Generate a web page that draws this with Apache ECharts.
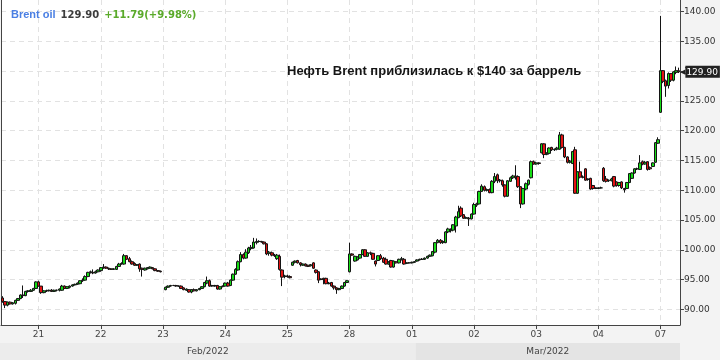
<!DOCTYPE html>
<html><head><meta charset="utf-8">
<script src="https://cdn.jsdelivr.net/npm/echarts@6/dist/echarts.min.js"></script>
<style>html,body{margin:0;padding:0;background:#f3f3f3}#c{width:720px;height:360px}</style>
</head><body><div id="c"></div>
<script>
// Day labels (first = partial Friday Feb 18, not labelled on axis)
const dayLabels = ['18','21','22','23','24','25','28','01','02','03','04','07'];
const monthLabels = ['Feb/2022','Mar/2022'];
const yTicks = [90,95,100,105,110,115,120,125,130,135,140];
const instrument = 'Brent oil';
const lastPrice = 129.90;
const changeText = '+11.79(+9.98%)';
const headline = 'Нефть Brent приблизилась к $140 за баррель';

// hourly candles: [open, close, low, high]
const feb18 = [
[91.9,91.3,91.1,92.2],[91.3,90.7,90.2,91.4],[90.7,91.2,90.5,91.3],[91.2,90.9,90.8,91.3],
[90.9,91.1,90.8,91.2],[91.0,91.5,90.8,91.6],[91.5,91.8,91.4,91.9],[91.8,92.4,91.7,92.5],
[92.4,92.3,91.9,94.0],[92.3,93.0,92.2,93.1],[93.0,93.1,92.8,93.2],[93.0,93.2,92.9,93.4],
[93.2,93.5,93.1,93.6],[93.5,94.6,93.4,94.7]];
const feb21 = [
[94.6,93.9,93.8,94.8],[93.9,92.8,92.6,93.9],[92.8,93.1,92.7,93.2],[93.1,93.1,92.9,93.3],
[93.1,93.2,93.0,93.3],[93.2,93.0,92.9,93.4],[93.0,93.2,92.9,93.3],[93.2,93.2,93.0,93.3],
[93.2,93.4,93.0,93.5],[93.2,93.9,93.1,94.1],[93.9,93.5,93.4,94.0],[93.5,93.8,93.4,93.9],
[93.7,93.9,93.5,94.0],[93.9,94.1,93.8,94.2],[94.1,94.2,94.0,94.3],[94.2,94.4,94.1,94.5],
[94.3,94.8,94.2,94.9],[94.8,94.9,94.6,95.2],[94.9,95.5,94.8,95.7],[95.5,96.2,95.4,96.3],
[96.2,96.3,96.0,96.5],[96.2,96.1,95.9,96.7],[96.1,96.3,96.0,96.5],[96.3,96.6,96.2,96.7]];
const feb22 = [
[96.5,97.0,96.3,97.1],[97.0,97.1,96.8,97.6],[97.1,96.9,96.8,97.2],[96.9,96.8,96.6,97.0],
[96.8,96.7,96.6,96.9],[96.7,96.8,96.6,96.9],[96.7,97.2,96.6,97.3],[97.2,97.6,97.1,97.8],
[97.6,97.7,97.5,97.9],[97.6,99.0,97.5,99.3],[99.0,98.4,98.3,99.1],[98.5,98.0,97.9,98.8],
[98.0,97.6,97.5,98.2],[97.7,97.4,97.3,97.9],[97.4,97.5,97.3,97.6],[97.6,96.8,96.3,97.7],
[96.9,96.7,95.5,97.0],[96.6,96.9,96.5,97.0],[96.8,97.0,96.7,97.1],[96.9,97.1,96.8,97.2],
[97.0,96.8,96.7,97.1],[96.8,96.5,96.4,96.9],[96.5,96.4,96.3,96.6],[96.4,96.3,96.2,96.5]];
const feb23 = [
null,[93.3,93.7,93.2,93.8],[93.7,93.9,93.6,94.0],[93.9,94.0,93.8,94.1],
[94.0,94.0,93.9,94.1],[94.0,93.9,93.8,94.1],[93.9,93.9,93.8,94.0],[93.9,93.5,93.4,94.0],
[93.6,93.3,93.2,93.7],[93.2,93.4,93.1,93.5],[93.3,92.9,92.8,93.4],[92.9,93.3,92.7,93.4],
[93.3,93.1,93.0,93.5],[93.1,93.3,93.0,93.4],[93.3,93.5,93.2,93.6],[93.5,93.8,93.4,93.9],
[93.8,94.5,93.7,94.6],[94.4,94.8,94.2,95.5],[94.8,93.9,93.8,95.0],[93.9,94.0,93.8,94.1],
[94.0,93.9,93.8,94.1],[94.0,93.4,93.3,94.1],[93.4,93.8,93.3,93.9],[93.8,93.9,93.7,94.0]];
const feb24 = [
[93.9,94.4,93.8,94.5],[94.4,93.9,93.8,94.6],[94.0,94.9,93.9,95.0],[94.9,95.9,94.8,96.0],
[95.9,96.7,95.8,96.9],[96.6,98.0,96.5,98.2],[98.0,99.2,97.9,99.6],[99.2,98.6,98.4,99.4],
[98.6,99.6,98.5,100.1],[99.5,100.3,99.3,100.5],[100.2,100.4,99.9,100.8],[100.3,101.3,100.2,102.0],
[101.2,101.4,100.9,101.9],[101.4,101.4,101.2,101.6],[101.4,101.3,101.2,101.5],[101.3,101.0,100.9,101.4],
[101.0,99.3,99.1,101.1],[99.4,99.6,99.0,99.8],[99.5,99.1,98.9,99.7],[99.1,99.0,98.8,99.3],
[98.5,99.1,98.3,99.3],[98.9,96.7,96.5,99.2],[96.6,95.4,93.9,96.7],[95.5,95.6,95.2,95.8]];
const feb25 = [
[95.6,95.5,95.3,95.8],[95.5,95.3,95.2,95.7],[97.4,97.9,97.3,98.0],[97.9,98.1,97.7,98.2],
[98.2,97.8,97.7,98.3],[97.8,97.5,97.2,97.9],[97.4,97.6,97.3,97.7],[97.6,97.3,97.2,97.7],
[97.4,97.2,97.1,97.5],[97.3,97.5,97.2,97.6],[97.8,96.9,96.8,97.9],[96.6,96.2,96.0,96.7],
[96.3,94.9,94.4,96.4],[95.0,95.1,94.9,95.2],[95.2,95.0,94.2,95.3],[95.2,94.3,94.2,95.3],
[94.3,94.4,94.2,94.6],[94.5,93.9,93.8,94.6],[93.9,93.6,93.3,94.0],[93.6,93.3,92.6,93.7],
[93.3,93.5,93.2,93.6],[93.5,93.9,93.4,94.0],[93.9,94.5,93.8,94.6],[94.5,94.8,94.4,94.9]];
const feb28 = [
[96.3,99.3,96.2,101.2],[99.3,99.1,99.0,99.4],[98.1,98.9,98.0,99.0],[98.3,98.8,98.2,98.9],
[98.6,99.2,98.5,99.3],[99.2,100.0,99.1,100.1],[100.0,98.9,98.8,100.1],[98.9,99.5,98.8,99.6],
[99.5,99.4,99.1,99.7],[99.4,98.4,98.3,99.5],[98.1,97.6,97.2,98.2],[98.2,99.0,98.1,99.1],
[99.0,98.5,98.3,99.3],[98.6,97.9,97.8,98.8],[98.4,97.6,97.5,98.7],[97.6,97.9,97.5,98.1],
[98.2,97.1,97.0,98.3],[97.1,98.1,97.0,98.2],[98.0,97.8,97.7,98.1],[97.8,98.4,97.7,98.5],
[98.4,98.5,98.2,98.8],[98.4,97.6,97.5,98.6],[97.7,97.8,97.6,97.9],[97.8,97.8,97.7,97.9]];
const mar01 = [
[97.8,97.9,97.7,98.0],[97.9,98.0,97.8,98.1],[98.1,98.3,98.0,98.4],[98.3,98.4,98.2,98.5],
[98.4,98.4,98.3,98.6],[98.4,98.6,98.3,98.7],[98.6,98.9,98.5,99.0],[98.9,99.1,98.8,99.2],
[99.0,99.7,98.9,99.8],[99.6,101.2,99.4,101.3],[101.2,101.6,101.1,101.8],[101.6,101.2,101.0,101.8],
[101.2,101.4,101.0,101.6],[101.2,103.0,101.1,103.1],[103.0,103.5,102.8,103.7],[103.2,103.3,102.9,103.6],
[103.3,104.2,103.1,104.3],[104.0,105.5,102.9,105.7],[105.4,106.4,105.3,107.4],[107.0,105.7,105.5,107.3],
[105.9,105.3,105.2,106.0],[105.3,105.4,105.2,105.6],[105.3,105.2,104.0,105.5],[105.2,106.0,105.1,106.1]];
const mar02 = [
[106.0,107.6,105.9,107.9],[107.5,107.7,107.2,107.9],[107.7,109.8,107.6,109.9],[109.8,110.7,109.7,111.0],
[110.6,110.0,109.8,110.8],[110.0,110.1,109.8,110.3],[110.1,109.6,109.5,110.3],[109.6,111.5,109.5,111.7],
[111.5,112.3,111.2,112.9],[112.6,111.6,111.2,112.8],[111.6,111.7,111.3,111.9],[111.6,110.9,110.6,111.8],
[110.9,109.0,108.8,111.0],[109.0,111.6,108.9,111.7],[111.5,112.1,111.4,112.3],[112.1,112.4,111.9,112.6],
[112.4,112.2,111.8,114.2],[112.3,110.6,110.4,112.5],[110.6,107.7,107.0,110.7],[107.7,110.3,107.6,110.4],
[110.2,111.1,110.0,111.3],[111.0,111.7,110.8,111.8],[112.1,114.8,112.0,115.0],[114.8,114.4,114.3,115.0]];
const mar03 = [
[114.4,114.6,114.3,114.8],[114.6,114.5,114.3,114.7],[116.3,117.8,116.2,117.9],[117.8,116.0,115.4,117.9],
[116.0,116.2,115.9,116.4],[116.2,117.1,116.0,117.2],[117.2,116.8,116.6,117.3],[116.8,116.9,116.6,117.0],
[116.9,117.1,116.7,117.3],[116.9,119.3,116.8,119.8],[119.3,117.2,117.0,119.5],[117.2,115.6,115.4,117.3],
[115.6,114.7,114.5,115.7],[114.7,114.9,114.5,115.1],[114.5,116.5,114.4,116.6],[116.8,109.5,109.4,117.3],
[109.5,113.1,109.4,113.2],[113.1,112.2,112.0,114.8],[112.2,112.2,112.0,112.5],[113.6,111.7,111.6,113.7],
[111.8,111.9,111.6,112.0],[112.0,110.2,110.1,112.1],[110.8,110.3,110.1,110.9],[110.4,110.3,110.2,110.5]];
const mar04 = [
[110.3,110.4,110.2,110.5],[110.4,110.4,110.3,110.6],[113.7,111.6,111.4,113.9],[111.9,111.5,111.3,112.4],
[111.6,111.7,111.4,111.8],[111.6,111.9,111.5,112.1],[112.3,110.7,110.5,112.4],[111.4,110.8,110.6,111.5],
[110.8,111.3,110.6,111.4],[111.4,110.4,110.2,111.5],[110.3,110.1,109.6,110.4],[110.3,111.3,110.2,111.4],
[111.3,112.8,111.2,112.9],[112.0,112.9,111.9,113.0],[112.9,113.6,112.8,113.7],[113.6,113.6,113.4,113.8],
[113.5,114.6,113.4,115.9],[114.8,114.4,114.2,115.0],[114.4,114.7,114.3,114.9],[114.8,113.5,113.3,114.9],
[113.8,113.6,113.4,114.0],[114.0,114.6,113.9,114.7],[114.7,118.0,114.6,118.1],[117.9,118.5,117.8,118.9]];
const mar07 = [
[123.1,130.1,123.0,139.3],[130.1,128.3,128.0,130.2],[128.4,127.5,125.7,128.6],[127.6,129.6,127.1,129.8],
[129.6,128.5,128.2,129.7],[128.5,129.9,128.3,130.0],[129.8,130.1,129.5,130.8],[130.1,129.9,129.7,130.6]];

const days = [feb18,feb21,feb22,feb23,feb24,feb25,feb28,mar01,mar02,mar03,mar04,mar07];
const categories = [], ohlc = [], tickIdx = new Set();
let marStart = 0;
days.forEach((arr, d) => {
  arr.forEach((c, j) => {
    const idx = categories.length;
    categories.push(dayLabels[d] + '_' + j);
    if (d > 0 && j === 0) tickIdx.add(idx);
    if (dayLabels[d] === '01' && j === 0) marStart = idx;
    ohlc.push(c ? c : ['-','-','-','-']);
  });
});
const isTick = (i) => tickIdx.has(i);
const FONT = 'DejaVu Sans';

const chart = echarts.init(document.getElementById('c'), null, {renderer: 'canvas'});
chart.setOption({
  animation: false,
  backgroundColor: '#f3f3f3',
  title: [
    {
      left: 11, top: 6, padding: 0,
      text: '{a|' + instrument + '} {b|' + lastPrice.toFixed(2) + '} {c|' + changeText + '}',
      textStyle: {
        rich: {
          a: {color: '#4a7fe3', fontSize: 11, fontWeight: 'bold', fontFamily: 'Liberation Sans'},
          b: {color: '#3c3c3c', fontSize: 10, fontWeight: 'bold', fontFamily: FONT},
          c: {color: '#5aaa2a', fontSize: 10, fontWeight: 'bold', fontFamily: FONT}
        }
      }
    },
    {
      left: 287, top: 65, padding: 0,
      text: headline,
      textStyle: {color: '#151515', fontSize: 13, fontWeight: 'bold', fontFamily: 'Liberation Sans'}
    }
  ],
  grid: {left: 1, right: 40, top: 0, bottom: 35, show: true, backgroundColor: '#ffffff', borderWidth: 0},
  xAxis: {
    type: 'category',
    data: categories,
    boundaryGap: true,
    axisLine: {lineStyle: {color: '#444', width: 1}},
    axisTick: {show: true, interval: isTick, alignWithLabel: true, length: 4, lineStyle: {color: '#444'}},
    axisLabel: {interval: isTick, formatter: (v) => v.split('_')[0], color: '#444', fontSize: 9, fontFamily: FONT, margin: 5},
    splitLine: {show: true, interval: isTick, alignWithLabel: true, lineStyle: {color: '#e2e2e2', type: [5, 4]}}
  },
  yAxis: [
    {
      type: 'value', position: 'right', min: 87.36, max: 141.97, splitNumber: 10, scale: true,
      axisLine: {show: true, lineStyle: {color: '#444'}},
      axisTick: {show: true, length: 4, customValues: yTicks, lineStyle: {color: '#444'}},
      axisLabel: {customValues: yTicks,
        formatter: (v) => v.toFixed(2), color: '#333', fontSize: 9, fontFamily: FONT, margin: 4},
      splitLine: {show: true, customValues: yTicks,
        lineStyle: {color: '#e2e2e2', type: [5, 4]}}
    },
    {
      type: 'value', position: 'left', min: 87.36, max: 141.97,
      axisLine: {show: true, lineStyle: {color: '#444'}},
      axisTick: {show: false}, axisLabel: {show: false}, splitLine: {show: false}
    }
  ],
  series: [{
    type: 'candlestick',
    data: ohlc,
    barWidth: 3,
    itemStyle: {color: '#16dd16', color0: '#e51212', borderColor: '#141414', borderColor0: '#141414', borderWidth: 1},
    markLine: {
      silent: true, symbol: ['none', 'none'],
      lineStyle: {color: 'rgba(0,0,0,0)', width: 0},
      label: {
        show: true, position: 'end', distance: 0,
        formatter: () => '{arr|◀}{box|' + lastPrice.toFixed(2) + '}',
        rich: {
          arr: {color: '#222', fontSize: 7, fontFamily: FONT},
          box: {color: '#ffffff', backgroundColor: '#222', fontSize: 9, fontFamily: FONT, padding: [2, 2, 1, 1]}
        }
      },
      data: [{yAxis: lastPrice}]
    }
  }]
});

// month bands below the date labels, positioned from the category scale
const c0 = chart.convertToPixel({xAxisIndex: 0}, 0);
const c1 = chart.convertToPixel({xAxisIndex: 0}, 1);
const w = c1 - c0;
const bandSplit = chart.convertToPixel({xAxisIndex: 0}, marStart + 1) + w / 2;
const bandEnd = chart.convertToPixel({xAxisIndex: 0}, categories.length - 1) + w / 2;
chart.setOption({
  graphic: [
    {type: 'rect', shape: {x: 0, y: 343, width: bandSplit, height: 17}, style: {fill: '#ececec'}, z: 0},
    {type: 'rect', shape: {x: bandSplit, y: 343, width: bandEnd - bandSplit, height: 17}, style: {fill: '#e4e4e4'}, z: 0},
    {type: 'text', x: bandSplit / 2, y: 352, style: {text: monthLabels[0], fill: '#444', font: '9px "DejaVu Sans"', align: 'center', verticalAlign: 'middle'}, z: 1},
    {type: 'text', x: (bandSplit + bandEnd) / 2, y: 352, style: {text: monthLabels[1], fill: '#444', font: '9px "DejaVu Sans"', align: 'center', verticalAlign: 'middle'}, z: 1}
  ]
});
</script>
</body></html>
